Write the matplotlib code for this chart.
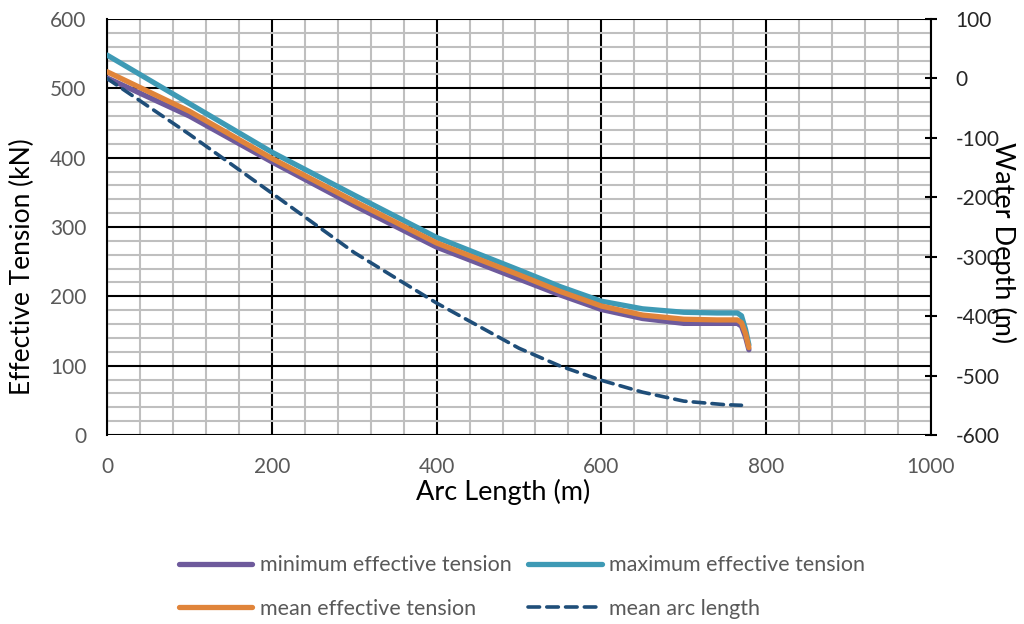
import matplotlib
matplotlib.use("Agg")
import matplotlib.pyplot as plt
from matplotlib.ticker import MultipleLocator

plt.rcParams['font.family'] = ['Lato', 'DejaVu Sans']
plt.rcParams['axes.unicode_minus'] = False

arc = [0, 100, 200, 300, 400, 500, 550, 600, 650, 700, 740, 765, 770, 775, 779]
max_t = [548, 478, 408, 346, 285, 238, 214, 193, 182, 177, 176, 176, 172, 152, 130]
mean_t = [524, 467, 399, 337, 277, 231, 207, 186, 173, 167, 166, 166, 162, 146, 126]
min_t = [515, 460, 394, 331, 271, 225, 202, 181, 168, 161, 161, 161, 157, 141, 123]

depth_x = [0, 100, 200, 300, 400, 500, 550, 600, 650, 700, 750, 770]
depth_y = [0, -94, -193, -293, -378, -454, -484, -508, -528, -543, -549, -550]

fig = plt.figure(figsize=(10.24, 6.24), dpi=100)
ax = fig.add_axes([107/1024, 1-435/624, (931-107)/1024, (435-19)/624])
ax2 = ax.twinx()

c_min = '#6E5A9C'
c_max = '#3E9AB5'
c_mean = '#E0843A'
c_dash = '#1F4E79'

l1, = ax.plot(arc, min_t, color=c_min, lw=3.8, solid_capstyle='round', solid_joinstyle='round', zorder=3, label='minimum effective tension')
l2, = ax.plot(arc, max_t, color=c_max, lw=3.8, solid_capstyle='round', solid_joinstyle='round', zorder=3, label='maximum effective tension')
l3, = ax.plot(arc, mean_t, color=c_mean, lw=3.8, solid_capstyle='round', solid_joinstyle='round', zorder=4, label='mean effective tension')
l4, = ax2.plot(depth_x, depth_y, color=c_dash, lw=2.6, dashes=(3.2, 2.0), dash_capstyle='round', label='mean arc length')

ax.set_xlim(0, 1000)
ax.set_ylim(0, 600)
ax2.set_ylim(-600, 100)
ax.xaxis.set_major_locator(MultipleLocator(200))
ax.xaxis.set_minor_locator(MultipleLocator(40))
ax.yaxis.set_major_locator(MultipleLocator(100))
ax.yaxis.set_minor_locator(MultipleLocator(20))
ax2.yaxis.set_major_locator(MultipleLocator(100))

ax.grid(which='minor', color='#BFBFBF', lw=1.5, zorder=0)
ax.grid(which='major', color='black', lw=1.5, zorder=1)
ax.set_axisbelow(True)

for a in (ax, ax2):
    for s in a.spines.values():
        s.set_visible(False)
ax.spines['left'].set_visible(True)
ax.spines['left'].set_linewidth(1.5)
ax2.spines['right'].set_visible(True)
ax2.spines['right'].set_linewidth(1.5)

tick_color = '#595959'
ax.tick_params(axis='both', which='both', length=0, labelsize=15, labelcolor=tick_color)
ax.tick_params(axis='y', pad=15)
ax.tick_params(axis='x', pad=16)
ax2.tick_params(axis='y', which='major', direction='inout', length=9, width=1.5, labelsize=15, labelcolor='#262626', pad=13)

ax.set_xlabel('Arc Length (m)', fontsize=19.5, va='center')
ax.set_ylabel('Effective Tension (kN)', fontsize=19, va='center')
ax2.set_ylabel('Water Depth (m)', fontsize=19.5, rotation=-90, va='center')
ax.xaxis.set_label_coords((503-107)/824, -57/416, transform=ax.transAxes)
ax.yaxis.set_label_coords(-85/824, (435-267)/416, transform=ax.transAxes)
ax2.yaxis.set_label_coords((1003-107)/824, (435-243)/416, transform=ax.transAxes)

fig.legend(handles=[l1, l3, l2, l4], loc='center', bbox_to_anchor=(522/1024, 1-587/624), ncol=2,
           frameon=False, fontsize=15.5, handlelength=3.4, handletextpad=0.33, columnspacing=0.8,
           labelspacing=1.1, labelcolor='#595959')

fig.savefig('out.png', dpi=100)
